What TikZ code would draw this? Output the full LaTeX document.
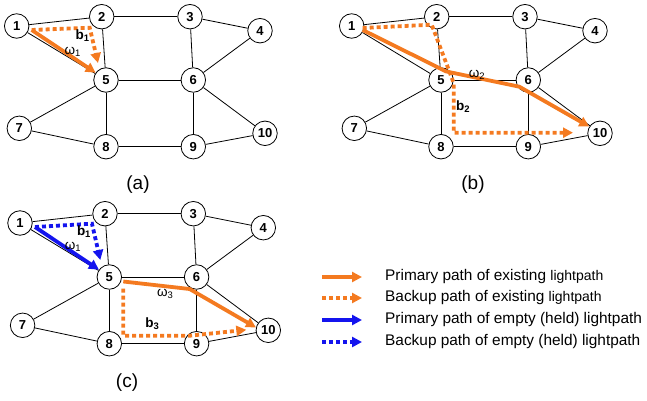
\documentclass[tikz,border=0pt]{standalone}
\usepackage{fontspec}
\setmainfont{Liberation Sans}
\usepackage{xcolor}
\definecolor{cOrange}{HTML}{F47A20}
\definecolor{cBlue}{HTML}{1414EE}
\usetikzlibrary{positioning,arrows.meta,calc}
\tikzset{
  node-net/.style={draw=black,line width=0.8pt,circle,fill=white,
    minimum size=24.5pt,inner sep=0pt,font=\fontsize{13}{15}\selectfont\bfseries},
  link/.style={draw=black,line width=0.8pt},
  lp-prim/.style={-{Triangle[length=10pt,width=10pt]},line width=3.8pt},
  lp-back/.style={-{Triangle[length=10pt,width=10pt]},line width=3.8pt,
    dash pattern=on 4pt off 3pt},
  lp-exist/.style={draw=cOrange},
  lp-held/.style={draw=cBlue},
  lbl/.style={font=\fontsize{13.5}{15}\selectfont,inner sep=0pt},
  panel-tag/.style={font=\fontsize{19}{22}\selectfont},
  legend-text/.style={anchor=west,inner sep=0pt,font=\fontsize{15.4}{18}\selectfont},
}
% one copy of the network, node names get the prefix #1
\newcommand{\netdraw}[1]{%
  \foreach \n/\x/\y in {1/16.7/26,2/101.7/16.7,3/190/16.7,4/260/30.7,
      5/106/80,6/193.3/80,7/19.3/128.3,8/106/146.7,9/193.3/146.7,10/265/133.3}
    \node[node-net] (#1\n) at (\x,\y) {\n};
  \foreach \u/\v in {1/2,1/5,2/3,2/5,3/4,3/6,4/6,5/6,5/7,5/8,6/9,6/10,7/8,8/9,9/10}
    \draw[link] (#1\u) -- (#1\v);
}

\begin{document}
\begin{tikzpicture}[x=1pt,y=-1pt]
  \useasboundingbox (0,0) rectangle (647,401);

  % (a)
  \begin{scope}
    \netdraw{a}
  \end{scope}
  \coordinate (a-src) at ($(a1)+(15,4)$);
  \draw[lp-prim,lp-exist] (a-src) -- (a5.145);
  \draw[lp-back,lp-exist] (a-src) -- ($(a2)+(-12,11)$) -- ($(a5)+(-8,-17)$);
  \node[lbl] (a-w1) at ($(a1)+(56,26)$) {ω\textsubscript{1}};
  \node[lbl] (a-b1) at ($(a1)+(66,10)$) {\textbf{b\textsubscript{1}}};
  \node[panel-tag] (tag-a) at (138,185) {(a)};

  % (b)
  \begin{scope}[shift={(335,0)}]
    \netdraw{b}
  \end{scope}
  \draw[lp-prim,lp-exist] ($(b1)+(11,4)$) -- ($(b5)+(5,-8.6)$)
    -- ($(b6)+(-9,6.7)$) -- (b10.148);
  \draw[lp-back,lp-exist] ($(b1)+(11,2)$) -- ($(b2)+(-5,8)$)
    -- ($(b5)+(12.7,3)$) |- ($(b10)+(-27,-0.6)$);
  \node[lbl] (b-w2) at ($(b5)+(36,-5)$) {ω\textsubscript{2}};
  \node[lbl] (b-b2) at ($(b5)+(22,27)$) {\textbf{b\textsubscript{2}}};
  \node[panel-tag] (tag-b) at (473,185) {(b)};

  % (c)
  \begin{scope}[shift={(3.3,197)}]
    \netdraw{c}
  \end{scope}
  \coordinate (c-src) at ($(c1)+(15,4)$);
  \draw[lp-prim,lp-held] (c-src) -- (c5.145);
  \draw[lp-back,lp-held] (c-src) -- ($(c2)+(-13,10)$) -- ($(c5)+(-9,-17)$);
  \draw[lp-prim,lp-exist] ($(c5)+(14,4.5)$) -- ($(c6)+(-7,12)$) -- (c10.167);
  \draw[lp-back,lp-exist] ($(c5)+(14,11.5)$) |- ($(c9)+(-6.7,-8)$)
    -- ($(c10)+(-22,-0.5)$);
  \node[lbl] (c-w1) at ($(c1)+(53,24)$) {ω\textsubscript{1}};
  \node[lbl] (c-b1) at ($(c1)+(64,9)$) {\textbf{b\textsubscript{1}}};
  \node[lbl] (c-w3) at ($(c5)+(56,17)$) {ω\textsubscript{3}};
  \node[lbl] (c-b3) at ($(c5)+(43,47)$) {\textbf{b\textsubscript{3}}};
  \node[panel-tag] (tag-c) at (127,383) {(c)};

  % legend
  \foreach \k/\y in {1/277,2/298,3/320,4/342} {
    \coordinate (key\k-s) at (322,\y);
    \coordinate (key\k-e) at (362,\y);
  }
  \draw[lp-prim,lp-exist] (key1-s) -- (key1-e);
  \draw[lp-back,lp-exist] (key2-s) -- (key2-e);
  \draw[lp-prim,lp-held] (key3-s) -- (key3-e);
  \draw[lp-back,lp-held] (key4-s) -- (key4-e);
  \node[legend-text] (txt1) at (385,277)
    {Primary path of existing {\fontsize{14}{16}\selectfont lightpath}};
  \node[legend-text] (txt2) at (385,298)
    {Backup path of existing {\fontsize{14}{16}\selectfont lightpath}};
  \node[legend-text] (txt3) at (385,320) {Primary path of empty (held) lightpath};
  \node[legend-text] (txt4) at (385,342) {Backup path of empty (held) lightpath};
\end{tikzpicture}
\end{document}
